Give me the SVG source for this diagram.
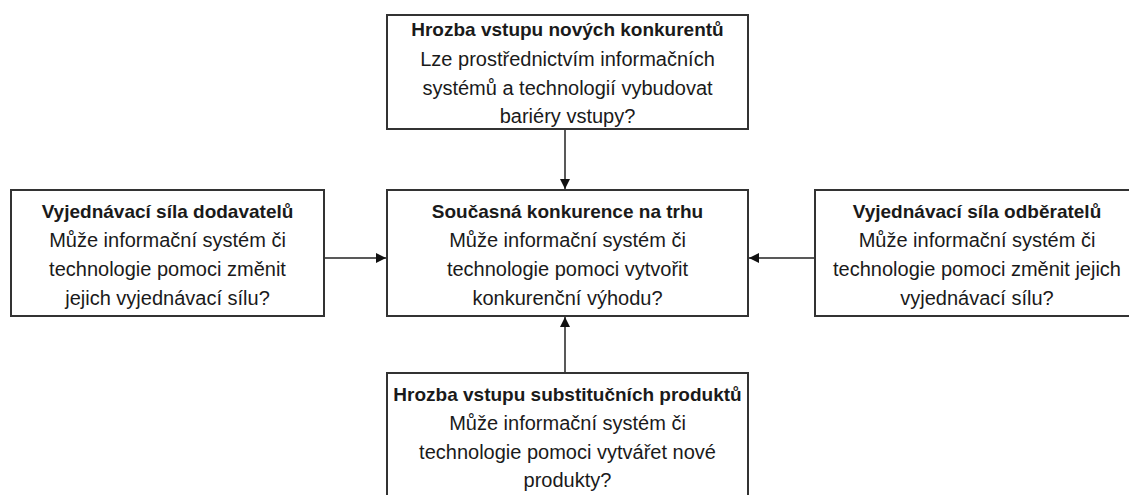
<svg xmlns="http://www.w3.org/2000/svg" width="1129" height="495" viewBox="0 0 1129 495">
<defs>
<style>
.box{fill:#fff;stroke:#333;stroke-width:2}
.t{font-family:"Liberation Sans",Arial,sans-serif;font-size:20px;fill:#1a1a1a;text-anchor:middle}
.b{font-weight:bold;font-size:19px}
.c{stroke:#222;stroke-width:1.5;fill:none}
</style>
<marker id="arr" viewBox="0 0 10 10" refX="10" refY="5" markerWidth="10" markerHeight="10" markerUnits="userSpaceOnUse" orient="auto">
<path d="M0,0 L10,5 L0,10 z" fill="#111"/>
</marker>
</defs>
<rect width="1129" height="495" fill="#fff"/>
<g id="connectors">
<line class="c" x1="565" y1="129" x2="565" y2="189" marker-end="url(#arr)"/>
<line class="c" x1="324" y1="258" x2="386" y2="258" marker-end="url(#arr)"/>
<line class="c" x1="815" y1="258" x2="749" y2="258" marker-end="url(#arr)"/>
<line class="c" x1="565" y1="373" x2="565" y2="317" marker-end="url(#arr)"/>
</g>
<g id="top">
<rect class="box" x="387" y="15" width="361" height="114"/>
<text class="t b" x="567.5" y="36">Hrozba vstupu nových konkurentů</text>
<text class="t" x="567.5" y="66">Lze prostřednictvím informačních</text>
<text class="t" x="567.5" y="95">systémů a technologií vybudovat</text>
<text class="t" x="567.5" y="123">bariéry vstupy?</text>
</g>
<g id="left">
<rect class="box" x="11" y="190" width="313" height="126"/>
<text class="t b" x="167.5" y="218">Vyjednávací síla dodavatelů</text>
<text class="t" x="167.5" y="247">Může informační systém či</text>
<text class="t" x="167.5" y="276">technologie pomoci změnit</text>
<text class="t" x="167.5" y="305">jejich vyjednávací sílu?</text>
</g>
<g id="center">
<rect class="box" x="387" y="190" width="361" height="126"/>
<text class="t b" x="567.5" y="218">Současná konkurence na trhu</text>
<text class="t" x="567.5" y="247">Může informační systém či</text>
<text class="t" x="567.5" y="276">technologie pomoci vytvořit</text>
<text class="t" x="567.5" y="305">konkurenční výhodu?</text>
</g>
<g id="right">
<rect class="box" x="815" y="190" width="330" height="126"/>
<text class="t b" x="977" y="218">Vyjednávací síla odběratelů</text>
<text class="t" x="977" y="247">Může informační systém či</text>
<text class="t" x="977" y="276">technologie pomoci změnit jejich</text>
<text class="t" x="977" y="305">vyjednávací sílu?</text>
</g>
<g id="bottom">
<rect class="box" x="387" y="373" width="361" height="130"/>
<text class="t b" x="567.5" y="401">Hrozba vstupu substitučních produktů</text>
<text class="t" x="567.5" y="430">Může informační systém či</text>
<text class="t" x="567.5" y="459">technologie pomoci vytvářet nové</text>
<text class="t" x="567.5" y="487">produkty?</text>
</g>
</svg>
